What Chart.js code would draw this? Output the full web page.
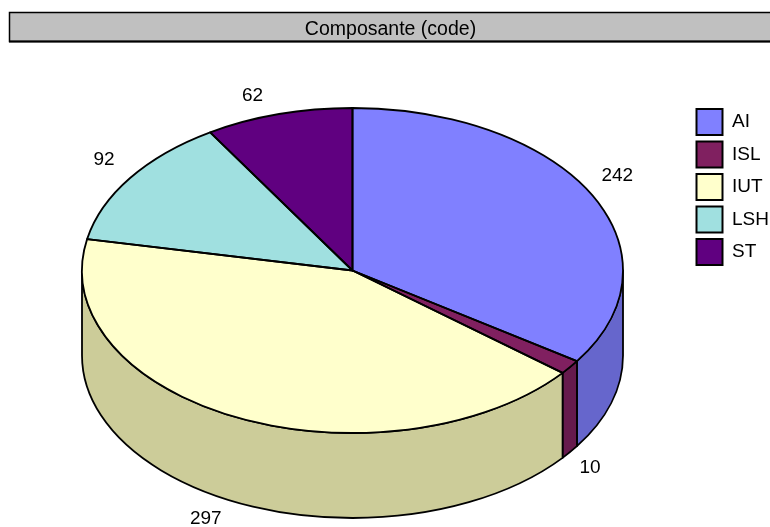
<!DOCTYPE html>
<html>
<head>
<meta charset="utf-8">
<style>
  html, body { margin: 0; padding: 0; background: #fff; }
  #wrap { position: relative; width: 770px; height: 527px; }
</style>
<script src="https://cdn.jsdelivr.net/npm/chart.js@4"></script>
</head>
<body>
<div id="wrap"><canvas id="pieChart" width="770" height="527"></canvas></div>
<script>
var categories = ['AI', 'ISL', 'IUT', 'LSH', 'ST'];
var values = [242, 10, 297, 92, 62];
var topColors = ['#8080FF', '#802060', '#FFFFCC', '#A0E0E0', '#600080'];
var sideColors = ['#6666CC', '#661A4D', '#CCCC99', '#80B3B3', '#4D0066'];
var titleText = 'Composante (code)';

// ellipse of the pie top, depth of the wall
var PIE = { cx: 352.5, cy: 270.5, rx: 270.5, ry: 162.5, depth: 85 };
var FONT = 'Liberation Sans, Arial, sans-serif';
var LINE = 1.8;

var pie3d = {
    id: 'pie3d',
    beforeDraw: function (chart) {
        // grey band behind the title
        var ctx = chart.ctx;
        ctx.save();
        ctx.fillStyle = '#C0C0C0';
        ctx.strokeStyle = '#000';
        ctx.lineWidth = 1.5;
        ctx.fillRect(9.5, 12.5, 770, 29);
        ctx.strokeRect(9.5, 12.5, 770, 29);
        ctx.lineWidth = 2;
        ctx.beginPath();
        ctx.moveTo(9, 41.5);
        ctx.lineTo(770, 41.5);
        ctx.stroke();
        ctx.restore();
    },
    afterLayout: function (chart) {
        chart.titleBlock.left = 9;
        chart.titleBlock.right = 772;
        chart.titleBlock.top = 18;
        chart.titleBlock.bottom = 43;
        chart.legend.left = 690;
        chart.legend.right = 770;
        chart.legend.top = 102.5;
        chart.legend.bottom = 527;
    },
    beforeDatasetsDraw: function (chart) {
        var ctx = chart.ctx;
        var arcs = chart.getDatasetMeta(0).data;

        // walls, only the part of each slice on the front half
        ctx.save();
        ctx.strokeStyle = '#000';
        ctx.lineWidth = LINE;
        ctx.lineJoin = 'round';
        arcs.forEach(function (arc, i) {
            var a = Math.max(arc.startAngle, 0);
            var b = Math.min(arc.endAngle, Math.PI);
            if (b <= a) return;
            ctx.beginPath();
            ctx.ellipse(PIE.cx, PIE.cy, PIE.rx, PIE.ry, 0, a, b);
            ctx.ellipse(PIE.cx, PIE.cy + PIE.depth, PIE.rx, PIE.ry, 0, b, a, true);
            ctx.closePath();
            ctx.fillStyle = sideColors[i];
            ctx.fill();
            ctx.stroke();
        });
        ctx.restore();

        // squash the library's round pie into the ellipse
        var first = arcs[0];
        ctx.save();
        ctx.translate(PIE.cx, PIE.cy);
        ctx.scale(PIE.rx / first.outerRadius, PIE.ry / first.outerRadius);
        ctx.translate(-first.x, -first.y);
    },
    afterDatasetsDraw: function (chart) {
        var ctx = chart.ctx;
        ctx.restore();

        var arcs = chart.getDatasetMeta(0).data;
        ctx.save();
        ctx.strokeStyle = '#000';
        ctx.lineWidth = LINE;
        ctx.lineJoin = 'round';
        arcs.forEach(function (arc, i) {
            ctx.beginPath();
            ctx.moveTo(PIE.cx, PIE.cy);
            ctx.ellipse(PIE.cx, PIE.cy, PIE.rx, PIE.ry, 0, arc.startAngle, arc.endAngle);
            ctx.closePath();
            ctx.stroke();

            // value labels, the lower ones sit under the wall
            var mid = (arc.startAngle + arc.endAngle) / 2;
            var cos = Math.cos(mid), sin = Math.sin(mid);
            var x = PIE.cx + PIE.rx * cos + (cos > 0 ? 26 : -26) - (sin > 0 ? 6 : 0);
            var y = PIE.cy + PIE.ry * sin + (sin > 0 ? 16 + PIE.depth : -18.5);
            ctx.fillStyle = '#000';
            ctx.font = '19px ' + FONT;
            ctx.textAlign = 'center';
            ctx.textBaseline = 'middle';
            ctx.fillText(String(values[i]), x, y);
        });
        ctx.restore();
    }
};

var myChart = new Chart(document.getElementById('pieChart'), {
    type: 'pie',
    data: {
        labels: categories,
        datasets: [{
            data: values,
            backgroundColor: topColors,
            borderWidth: 0,
            clip: false
        }]
    },
    options: {
        responsive: false,
        animation: false,
        events: [],
        plugins: {
            tooltip: { enabled: false },
            title: {
                display: true,
                text: titleText,
                color: '#000',
                font: { family: FONT, size: 19.5, weight: 'normal' },
                padding: 0
            },
            legend: {
                position: 'right',
                align: 'start',
                labels: {
                    color: '#000',
                    font: { family: FONT, size: 19 },
                    boxWidth: 26,
                    boxHeight: 26,
                    padding: 6.5,
                    generateLabels: function (chart) {
                        return Chart.overrides.pie.plugins.legend.labels.generateLabels(chart).map(function (item) {
                            item.strokeStyle = '#000';
                            item.lineWidth = 2;
                            return item;
                        });
                    }
                }
            }
        }
    },
    plugins: [pie3d]
});
</script>
</body>
</html>
